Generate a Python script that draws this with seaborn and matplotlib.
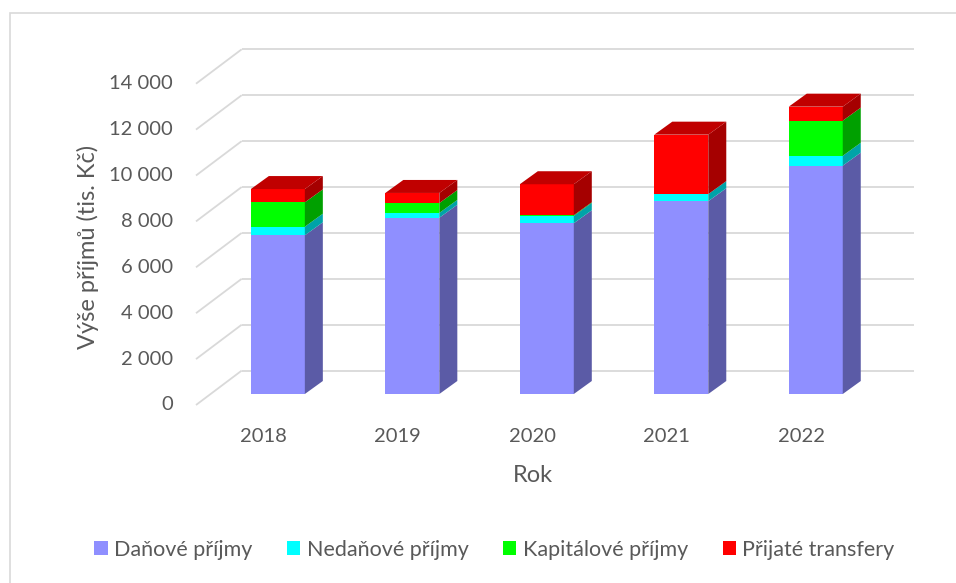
import numpy as np
import pandas as pd
import seaborn as sns
import matplotlib
matplotlib.use("Agg")
import matplotlib.pyplot as plt
from matplotlib.patches import Polygon, Patch, Rectangle

# ---- data ----
years = ["2018", "2019", "2020", "2021", "2022"]
danove = [6915, 7680, 7440, 8400, 9950]
nedanove = [375, 210, 320, 310, 430]
kapitalove = [1060, 430, 30, 0, 1530]
transfery = [580, 440, 1350, 2590, 610]
series_names = ["Daňové příjmy", "Nedaňové příjmy", "Kapitálové příjmy", "Přijaté transfery"]
ytick_values = [0, 2000, 4000, 6000, 8000, 10000, 12000, 14000]
ytick_labels = ["0", "2 000", "4 000", "6 000", "8 000", "10 000", "12 000", "14 000"]
y_title = "Výše příjmů (tis. Kč)"
x_title = "Rok"

# ---- styles ----
front_colors = ["#8F8FFF", "#00FFFF", "#00FF00", "#FF0000"]
side_colors = ["#5B5BA6", "#00A3A8", "#00A000", "#A50000"]
top_color = "#C00000"
grid_color = "#D9D9D9"
text_color = "#595959"

sns.set_theme(style="white")
plt.rcParams["font.family"] = ["Lato", "DejaVu Sans"]

W, H = 956, 583
fig = plt.figure(figsize=(W / 100, H / 100), dpi=100)
ax_left, ax_bottom_px, ax_w, ax_h = 210.6, 394.0, 672.4, 321.3
ax = fig.add_axes([ax_left / W, (H - ax_bottom_px) / H, ax_w / W, ax_h / H])

df = pd.DataFrame({"Rok": years, series_names[0]: danove, series_names[1]: nedanove,
                   series_names[2]: kapitalove, series_names[3]: transfery})
cum = df[series_names].cumsum(axis=1)

bar_w = 54 / 134.5
# pixel -> data conversions
px_x = 5 / ax_w          # category units per px
px_y = 14000 / ax_h      # value units per px
dx_bar, dy_bar = 18 * px_x, 13 * px_y
dx_back, dy_back = 31.1 * px_x, 23.4 * px_y
dx_front, dy_front = -14.6 * px_x, -11 * px_y

# front faces, drawn as cumulative layers (top layer first)
for name, col in reversed(list(zip(series_names, front_colors))):
    sns.barplot(x=df["Rok"], y=cum[name], color=col, width=bar_w, saturation=1,
                ax=ax, zorder=3, linewidth=0, edgecolor="none")

ax.set_xlim(-0.5, 4.5)
ax.set_ylim(0, 14000)
ax.axis("off")

# back wall gridlines + floor/side diagonals
for v in ytick_values:
    ax.plot([-0.5 + dx_back, 4.5 + dx_back], [v + dy_back, v + dy_back], color=grid_color,
            lw=1.3, zorder=1, clip_on=False, solid_capstyle="butt")
    ax.plot([-0.5 + dx_front, -0.5 + dx_back], [v + dy_front, v + dy_back], color=grid_color,
            lw=1.3, zorder=1, clip_on=False, solid_capstyle="butt")

# side and top faces
for i in range(len(years)):
    xr = i + bar_w / 2
    xl = i - bar_w / 2
    prev = 0
    for j, name in enumerate(series_names):
        top = cum[name].iloc[i]
        if top > prev:
            poly = Polygon([(xr, prev), (xr, top), (xr + dx_bar, top + dy_bar), (xr + dx_bar, prev + dy_bar)],
                           closed=True, facecolor=side_colors[j], edgecolor="none", zorder=3, clip_on=False)
            ax.add_patch(poly)
        prev = top
    tot = prev
    ax.add_patch(Polygon([(xl, tot), (xr, tot), (xr + dx_bar, tot + dy_bar), (xl + dx_bar, tot + dy_bar)],
                         closed=True, facecolor=top_color, edgecolor="none", zorder=3, clip_on=False))

# y tick labels
for v, lab in zip(ytick_values, ytick_labels):
    ax.text(-0.5 + dx_front - 23 * px_x, v + dy_front, lab, ha="right", va="center",
            fontsize=14.5, color=text_color, clip_on=False)

# x tick labels
for i, yr in enumerate(years):
    ax.text(i + dx_front, -42 * px_y, yr, ha="center", va="center",
            fontsize=14.5, color=text_color, clip_on=False)

fig.text(88 / W, 1 - 247 / H, y_title, rotation=90, ha="center", va="center",
         fontsize=17, color=text_color)
fig.text(533 / W, 1 - 476 / H, x_title, ha="center", va="center",
         fontsize=17, color=text_color)

handles = [Patch(facecolor=c, edgecolor="none") for c in front_colors]
leg = fig.legend(handles, series_names, loc="center", bbox_to_anchor=(494.5 / W, 1 - 550 / H),
                 ncol=4, frameon=False, fontsize=15.5, handlelength=0.62, handleheight=0.62,
                 handletextpad=0.3, columnspacing=1.6, labelcolor=text_color)

fig.patches.append(Rectangle((10 / W, -0.1), 1.2, 1 - 13 / H + 0.1, transform=fig.transFigure,
                             fill=False, edgecolor=grid_color, lw=1.2))

fig.savefig("out.png", dpi=100)
